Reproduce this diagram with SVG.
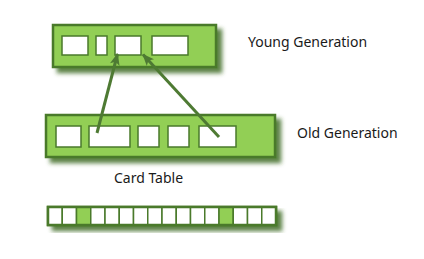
<svg xmlns="http://www.w3.org/2000/svg" width="424" height="259" viewBox="0 0 424 259">
<defs>
<style>
.box{fill:#92cf55;stroke:#4a7a2b;stroke-width:2.5}
.cell{fill:#ffffff;stroke:#4a7a2b;stroke-width:1.5}
.gcell{fill:#92cf55;stroke:#4a7a2b;stroke-width:1.5}
.lbl{font-family:"Noto Sans","Open Sans",sans-serif;font-size:14px;fill:#1a1a1a}
.arr{stroke:#4e7a33;stroke-width:3;fill:none;marker-end:url(#ah)}
</style>
<filter id="sh" x="-10%" y="-20%" width="130%" height="160%">
<feFlood flood-color="#3f6d27" flood-opacity="0.85"/>
<feComposite in2="SourceAlpha" operator="in"/>
<feGaussianBlur stdDeviation="2"/>
<feOffset dx="5" dy="5" result="s"/>
<feMerge><feMergeNode in="s"/><feMergeNode in="SourceGraphic"/></feMerge>
</filter>
<marker id="ah" viewBox="0 0 12 10" refX="11" refY="5" markerWidth="4" markerHeight="3.4" orient="auto" markerUnits="strokeWidth">
<path d="M0,0 L12,5 L0,10 L3,5 Z" fill="#4e7a33"/>
</marker>
</defs>
<g id="young-generation">
<rect class="box" x="53" y="25" width="163" height="42" filter="url(#sh)"/>
<rect class="cell" x="62" y="36" width="26" height="19"/>
<rect class="cell" x="96" y="36" width="11" height="19"/>
<rect class="cell" x="115" y="36" width="26" height="19"/>
<rect class="cell" x="152" y="36" width="36" height="19"/>
<text class="lbl" x="248" y="47">Young Generation</text>
</g>
<g id="old-generation">
<rect class="box" x="46" y="115" width="229" height="42" filter="url(#sh)"/>
<rect class="cell" x="56" y="126" width="25" height="21"/>
<rect class="cell" x="89" y="126" width="41" height="21"/>
<rect class="cell" x="138" y="126" width="21" height="21"/>
<rect class="cell" x="168" y="126" width="21" height="21"/>
<rect class="cell" x="199" y="126" width="37" height="21"/>
<text class="lbl" x="297" y="138">Old Generation</text>
</g>
<g id="card-table">
<g filter="url(#sh)">
<rect x="48" y="207" width="228" height="18" fill="#ffffff" stroke="#4a7a2b" stroke-width="2.5"/>
</g>
<g>
<rect class="cell" x="48" y="207" width="14.25" height="18"/>
<rect class="cell" x="62.25" y="207" width="14.25" height="18"/>
<rect class="gcell" x="76.5" y="207" width="14.25" height="18"/>
<rect class="cell" x="90.75" y="207" width="14.25" height="18"/>
<rect class="cell" x="105" y="207" width="14.25" height="18"/>
<rect class="cell" x="119.25" y="207" width="14.25" height="18"/>
<rect class="cell" x="133.5" y="207" width="14.25" height="18"/>
<rect class="cell" x="147.75" y="207" width="14.25" height="18"/>
<rect class="cell" x="162" y="207" width="14.25" height="18"/>
<rect class="cell" x="176.25" y="207" width="14.25" height="18"/>
<rect class="cell" x="190.5" y="207" width="14.25" height="18"/>
<rect class="cell" x="204.75" y="207" width="14.25" height="18"/>
<rect class="gcell" x="219" y="207" width="14.25" height="18"/>
<rect class="cell" x="233.25" y="207" width="14.25" height="18"/>
<rect class="cell" x="247.5" y="207" width="14.25" height="18"/>
<rect class="cell" x="261.75" y="207" width="14.25" height="18"/>
</g>
<rect x="48" y="207" width="228" height="18" fill="none" stroke="#4a7a2b" stroke-width="2.5"/>
<text class="lbl" x="114" y="183">Card Table</text>
</g>
<g id="connectors">
<line class="arr" x1="97" y1="133" x2="117.5" y2="54"/>
<line class="arr" x1="219" y1="137" x2="143" y2="54.5"/>
</g>
</svg>
